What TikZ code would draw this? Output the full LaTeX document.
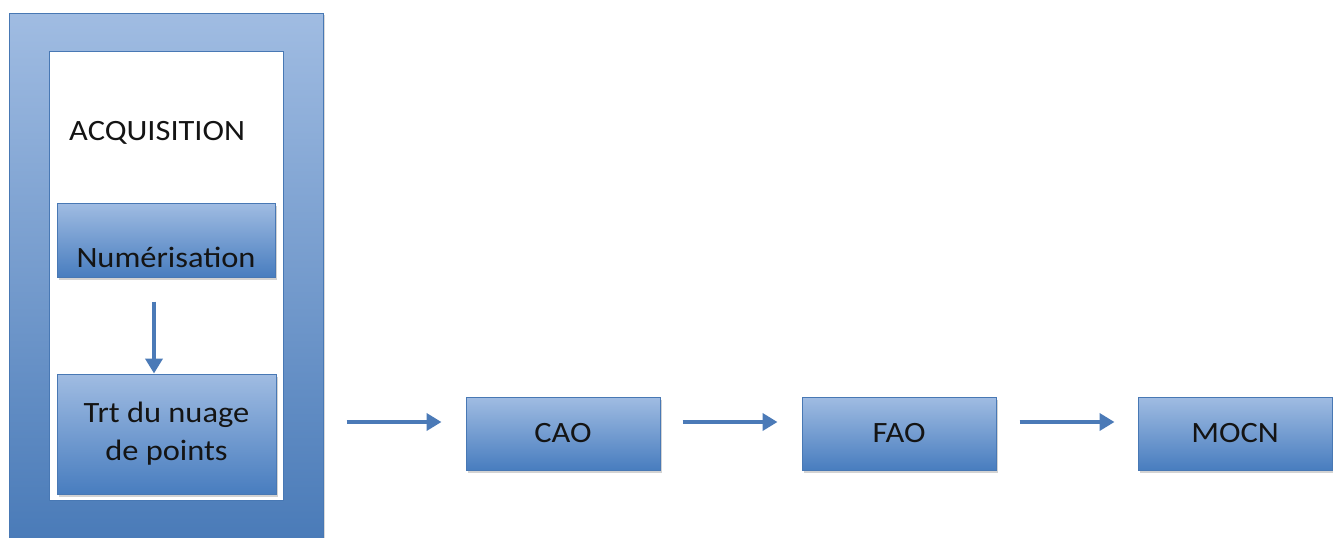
\documentclass[tikz,border=0pt]{standalone}
\usepackage{fontspec}
\setmainfont{Carlito}[FakeStretch=1.1]
\usetikzlibrary{arrows.meta,shadows,calc}
\definecolor{gtop}{RGB}{160,188,226}
\definecolor{gbot}{RGB}{72,125,191}
\definecolor{bord}{RGB}{72,120,180}
\definecolor{arrc}{RGB}{75,122,183}
\definecolor{txt}{RGB}{20,20,20}
\tikzset{
  bluebox/.style={draw=bord, line width=1pt, top color=gtop, bottom color=gbot,
    inner sep=0pt, text=txt, align=center,
    drop shadow={opacity=0.35, shadow xshift=1.5pt, shadow yshift=-2.5pt}},
  arr/.style={draw=arrc, line width=4.8pt, -{Triangle[length=15pt,width=17pt]}},
  lbl/.style={font=\fontsize{29.5}{38}\selectfont, text=txt, inner sep=0pt}
}
\begin{document}
\begin{tikzpicture}[x=1pt,y=-1pt]
\useasboundingbox (0,0) rectangle (1333,538);
% outer acquisition frame
\node[draw=bord, line width=1pt, top color=gtop, bottom color=gbot!95!black,
  inner sep=0pt, minimum width=314pt, minimum height=560pt,
  drop shadow={opacity=0.3, shadow xshift=1.5pt, shadow yshift=-2pt}]
  (outer) at (166,293) {};
\node[draw=bord, line width=1pt, fill=white, inner sep=0pt,
  minimum width=234pt, minimum height=449pt] (inner) at (166,276) {};
\node[lbl, anchor=base west] (acq) at (69,140) {ACQUISITION};
% inner boxes
\node[bluebox, minimum width=218pt, minimum height=74pt] (num) at (166,240) {};
\node[lbl, anchor=base] (numt) at (166,267) {Numérisation};
\node[bluebox, lbl, draw=bord, minimum width=219pt, minimum height=120pt] (trt) at (166.5,434) {Trt du nuage\\de points};
\draw[arr, shorten <=24pt] ([xshift=-12pt]num.south) -- ([xshift=-12.5pt]trt.north);
% main chain
\node[bluebox, lbl, minimum width=194pt, minimum height=73pt] (cao) at (563,433.5) {CAO};
\node[bluebox, lbl, minimum width=194pt, minimum height=73pt] (fao) at (899,433.5) {FAO};
\node[bluebox, lbl, minimum width=194pt, minimum height=73pt] (mocn) at (1235,433.5) {MOCN};
\coordinate (a1) at ([yshift=11.5pt]cao.west);
\draw[arr, shorten <=23pt, shorten >=24pt] (outer.east |- a1) -- (a1);
\draw[arr, shorten <=22pt, shorten >=24pt] ([yshift=11.5pt]cao.east) -- ([yshift=11.5pt]fao.west);
\draw[arr, shorten <=23pt, shorten >=23pt] ([yshift=11.5pt]fao.east) -- ([yshift=11.5pt]mocn.west);
\end{tikzpicture}
\end{document}
